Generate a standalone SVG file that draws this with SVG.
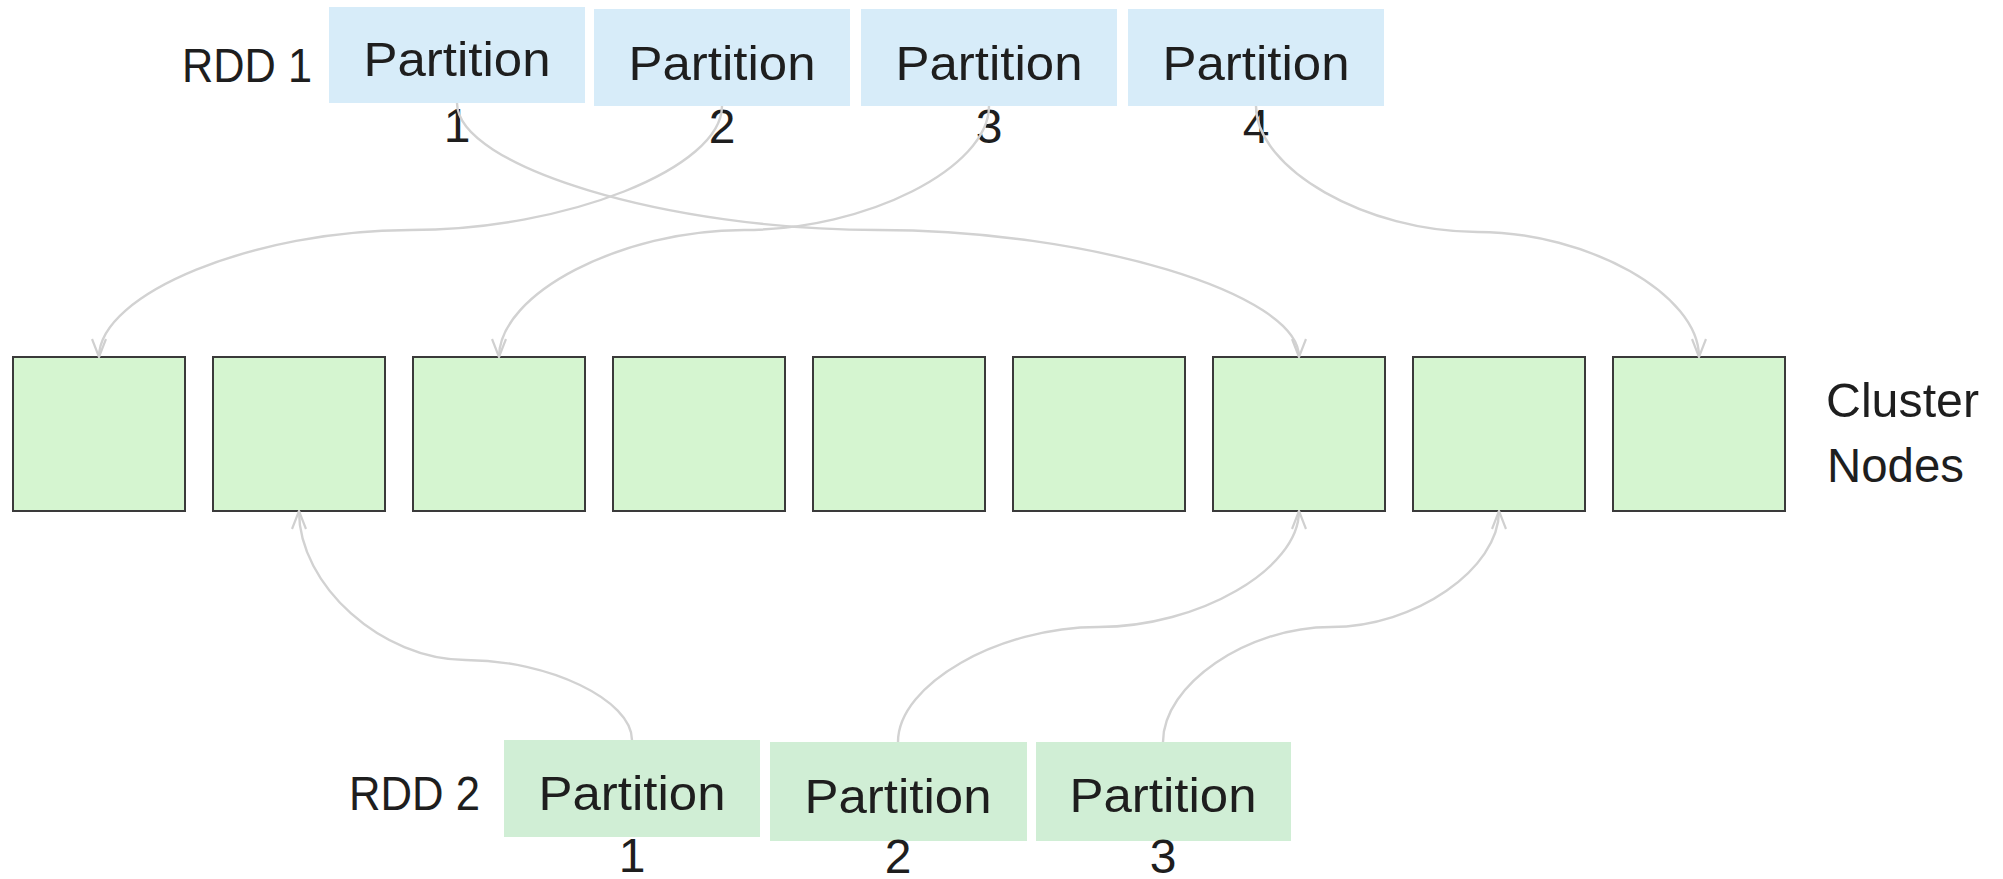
<svg xmlns="http://www.w3.org/2000/svg" width="2003" height="879" viewBox="0 0 2003 879">
  <style>
    .t { font-family: "Liberation Sans", Arial, sans-serif; font-size: 48px; fill: #1e1e1e; }
    .c { text-anchor: middle; }
    .rdd1 { fill: #d7ecf9; }
    .rdd2 { fill: #d0eed5; }
    .node { fill: #d5f5d0; stroke: #3a3a3a; stroke-width: 2; }
    .conn { fill: none; stroke: #d2d2d2; stroke-width: 2.4; marker-end: url(#arr); }
  </style>
  <defs>
    <marker id="arr" viewBox="0 0 20 16" refX="19" refY="8" markerWidth="20" markerHeight="16" markerUnits="userSpaceOnUse" orient="auto">
      <path d="M1 1 L19 8 L1 15" fill="none" stroke="#d0d0d0" stroke-width="2.2"/>
    </marker>
  </defs>
  <rect width="2003" height="879" fill="#ffffff"/>

  <g id="labels">
    <text class="t" x="182" y="82" textLength="130" lengthAdjust="spacingAndGlyphs">RDD 1</text>
    <text class="t" x="349" y="810" textLength="131" lengthAdjust="spacingAndGlyphs">RDD 2</text>
    <text class="t" x="1826" y="417" textLength="153" lengthAdjust="spacingAndGlyphs">Cluster</text>
    <text class="t" x="1827" y="482" textLength="137" lengthAdjust="spacingAndGlyphs">Nodes</text>
  </g>

  <g id="rdd1-p1">
    <rect class="rdd1" x="329" y="7" width="256" height="96"/>
    <text class="t c" x="457" y="76" textLength="187" lengthAdjust="spacingAndGlyphs">Partition</text>
    <text class="t c" x="457" y="142">1</text>
  </g>
  <g id="rdd1-p2">
    <rect class="rdd1" x="594" y="9" width="256" height="97"/>
    <text class="t c" x="722" y="80" textLength="187" lengthAdjust="spacingAndGlyphs">Partition</text>
    <text class="t c" x="722" y="143">2</text>
  </g>
  <g id="rdd1-p3">
    <rect class="rdd1" x="861" y="9" width="256" height="97"/>
    <text class="t c" x="989" y="80" textLength="187" lengthAdjust="spacingAndGlyphs">Partition</text>
    <text class="t c" x="989" y="143">3</text>
  </g>
  <g id="rdd1-p4">
    <rect class="rdd1" x="1128" y="9" width="256" height="97"/>
    <text class="t c" x="1256" y="80" textLength="187" lengthAdjust="spacingAndGlyphs">Partition</text>
    <text class="t c" x="1256" y="143">4</text>
  </g>

  <g id="node1"><rect class="node" x="13" y="357" width="172" height="154"/></g>
  <g id="node2"><rect class="node" x="213" y="357" width="172" height="154"/></g>
  <g id="node3"><rect class="node" x="413" y="357" width="172" height="154"/></g>
  <g id="node4"><rect class="node" x="613" y="357" width="172" height="154"/></g>
  <g id="node5"><rect class="node" x="813" y="357" width="172" height="154"/></g>
  <g id="node6"><rect class="node" x="1013" y="357" width="172" height="154"/></g>
  <g id="node7"><rect class="node" x="1213" y="357" width="172" height="154"/></g>
  <g id="node8"><rect class="node" x="1413" y="357" width="172" height="154"/></g>
  <g id="node9"><rect class="node" x="1613" y="357" width="172" height="154"/></g>

  <g id="rdd2-p1">
    <rect class="rdd2" x="504" y="740" width="256" height="97"/>
    <text class="t c" x="632" y="810" textLength="187" lengthAdjust="spacingAndGlyphs">Partition</text>
    <text class="t c" x="632" y="872">1</text>
  </g>
  <g id="rdd2-p2">
    <rect class="rdd2" x="770" y="742" width="257" height="99"/>
    <text class="t c" x="898" y="813" textLength="187" lengthAdjust="spacingAndGlyphs">Partition</text>
    <text class="t c" x="898" y="873">2</text>
  </g>
  <g id="rdd2-p3">
    <rect class="rdd2" x="1036" y="742" width="255" height="99"/>
    <text class="t c" x="1163" y="812" textLength="187" lengthAdjust="spacingAndGlyphs">Partition</text>
    <text class="t c" x="1163" y="873">3</text>
  </g>

  <g id="connectors">
    <path class="conn" d="M457 103 C457 166.5 667.5 230 878 230 C1088.5 230 1299 293.5 1299 357"/>
    <path class="conn" d="M722 106 C722 168 566.25 230 410.5 230 C254.75 230 99 293.5 99 357"/>
    <path class="conn" d="M989 106 C989 168 866.5 230 744 230 C621.5 230 499 293.5 499 357"/>
    <path class="conn" d="M1256 106 C1256 169 1366.75 232 1477.5 232 C1588.25 232 1699 294.5 1699 357"/>
    <path class="conn" d="M632 740 C632 700 548.75 660 465.5 660 C382.25 660 299 585.5 299 511"/>
    <path class="conn" d="M898 742 C898 684.5 998.25 627 1098.5 627 C1198.75 627 1299 569 1299 511"/>
    <path class="conn" d="M1163 742 C1163 684.5 1247 627 1331 627 C1415 627 1499 569 1499 511"/>
  </g>
</svg>
